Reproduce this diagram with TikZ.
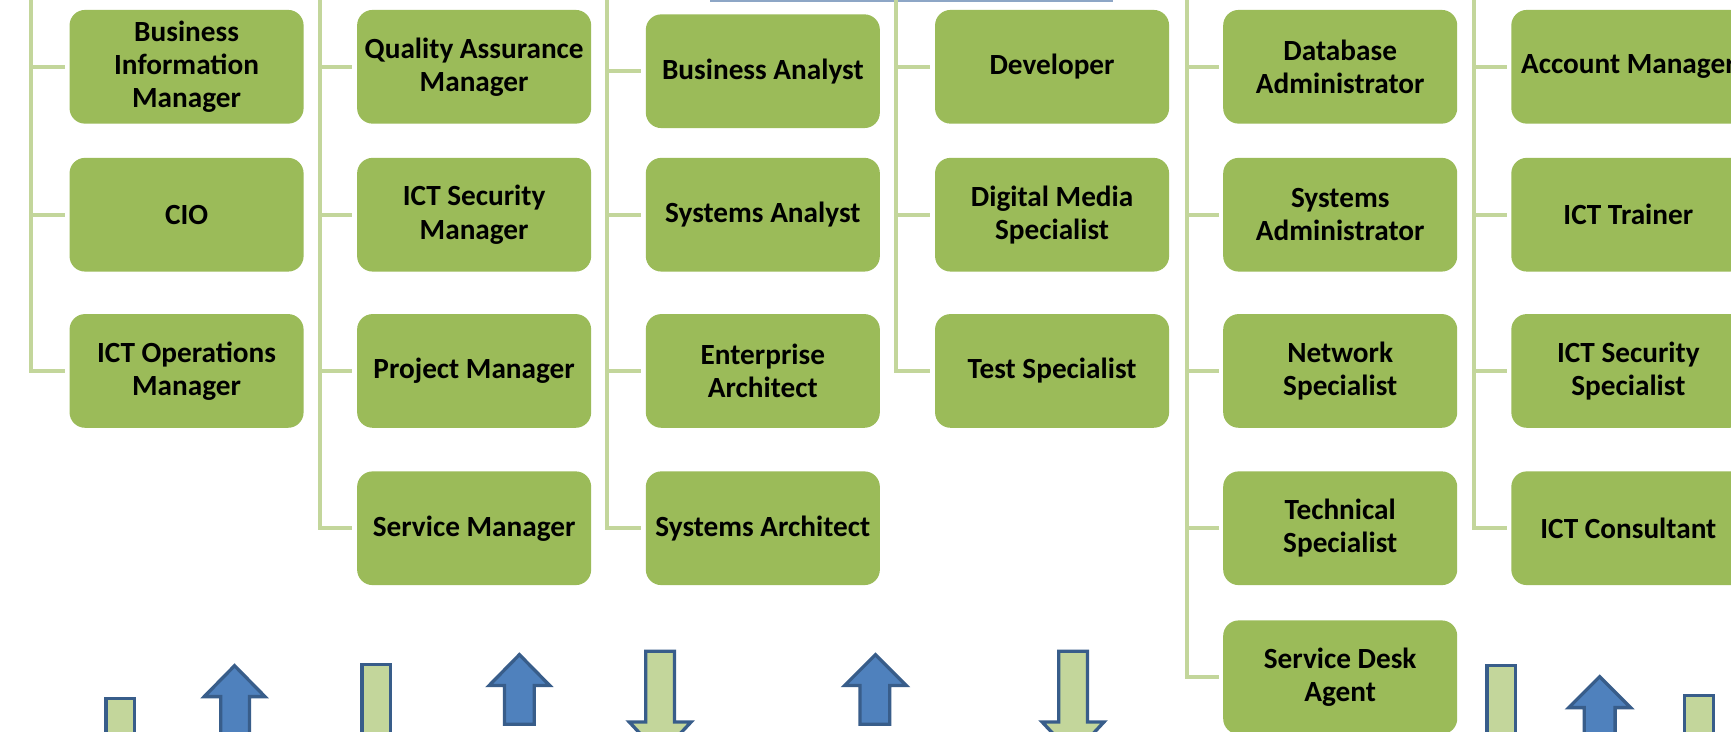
\documentclass[tikz,border=0pt]{standalone}
\usepackage{fontspec}
\setmainfont{Carlito}
\definecolor{boxgreen}{HTML}{9BBB59}
\definecolor{linegreen}{HTML}{C3D69B}
\definecolor{barfill}{HTML}{C3D69B}
\definecolor{arrowblue}{HTML}{4F81BD}
\definecolor{arrowedge}{HTML}{385D8A}
\definecolor{topstrip}{HTML}{8DA6C6}
\begin{document}
\begin{tikzpicture}[x=1pt,y=-1pt,
  role/.style={draw=none, fill=boxgreen, rounded corners=14pt, minimum width=212pt, minimum height=103pt, inner sep=0pt, align=center, font=\fontsize{26.5}{30}\selectfont\bfseries},
  conn/.style={draw=linegreen, line width=3.5pt},
  bluearrow/.style={fill=arrowblue, draw=arrowedge, line width=3pt, line join=miter},
  greenbar/.style={fill=barfill, draw=arrowedge, line width=3pt, line join=miter}]
\useasboundingbox (0,0) rectangle (1568,663);
\clip (0,0) rectangle (1568,663);
\fill[white] (0,0) rectangle (1568,663);
% strip at top edge
\fill[topstrip] (643,0) rectangle (1008,2);

% column 1
\node[role] (bim)    at (169,60.5)  {Business\\Information\\Manager};
\node[role] (cio)    at (169,194.5) {CIO};
\node[role] (ictops) at (169,336)   {ICT Operations\\Manager};
% column 2
\node[role] (qam)    at (429.5,60.5)  {Quality Assurance\\Manager};
\node[role] (ictsm)  at (429.5,194.5) {ICT Security\\Manager};
\node[role] (pm)     at (429.5,336)   {Project Manager};
\node[role] (sm)     at (429.5,478.5) {Service Manager};
% column 3
\node[role] (ba)     at (691,64.5)  {Business Analyst};
\node[role] (sa)     at (691,194.5) {Systems Analyst};
\node[role] (ea)     at (691,336)   {Enterprise\\Architect};
\node[role] (sysa)   at (691,478.5) {Systems Architect};
% column 4
\node[role] (dev)    at (953,60.5)  {Developer};
\node[role] (dms)    at (953,194.5) {Digital Media\\Specialist};
\node[role] (ts)     at (953,336)   {Test Specialist};
% column 5
\node[role] (dba)    at (1214,60.5)  {Database\\Administrator};
\node[role] (sadm)   at (1214,194.5) {Systems\\Administrator};
\node[role] (ns)     at (1214,336)   {Network\\Specialist};
\node[role] (tech)   at (1214,478.5) {Technical\\Specialist};
\node[role] (sda)    at (1214,613.5) {Service Desk\\Agent};
% column 6
\node[role] (am)     at (1475,60.5)  {Account Manager};
\node[role] (trn)    at (1475,194.5) {ICT Trainer};
\node[role] (icts)   at (1475,336)   {ICT Security\\Specialist};
\node[role] (cons)   at (1475,478.5) {ICT Consultant};

% trunks
\coordinate (t1) at (28,0);
\coordinate (t2) at (290,0);
\coordinate (t3) at (550,0);
\coordinate (t4) at (812,0);
\coordinate (t5) at (1075,0);
\coordinate (t6) at (1335,0);
\draw[conn] (t1) |- ([xshift=-4pt]ictops.west);
\foreach \n in {bim,cio} \draw[conn] (t1 |- \n.west) -- ([xshift=-4pt]\n.west);
\draw[conn] (t2) |- ([xshift=-4pt]sm.west);
\foreach \n in {qam,ictsm,pm} \draw[conn] (t2 |- \n.west) -- ([xshift=-4pt]\n.west);
\draw[conn] (t3) |- ([xshift=-4pt]sysa.west);
\foreach \n in {ba,sa,ea} \draw[conn] (t3 |- \n.west) -- ([xshift=-4pt]\n.west);
\draw[conn] (t4) |- ([xshift=-4pt]ts.west);
\foreach \n in {dev,dms} \draw[conn] (t4 |- \n.west) -- ([xshift=-4pt]\n.west);
\draw[conn] (t5) |- ([xshift=-4pt]sda.west);
\foreach \n in {dba,sadm,ns,tech} \draw[conn] (t5 |- \n.west) -- ([xshift=-4pt]\n.west);
\draw[conn] (t6) |- ([xshift=-4pt]cons.west);
\foreach \n in {am,trn,icts} \draw[conn] (t6 |- \n.west) -- ([xshift=-4pt]\n.west);

% bottom arrows and bars
\draw[greenbar] (96,633) rectangle (122,690);
\draw[bluearrow] (200,690) -- (200,631) -- (185,631) -- (212.5,603) -- (240,631) -- (226,631) -- (226,690) -- cycle;
\draw[greenbar] (328,602) rectangle (354,690);
\draw[bluearrow] (457,656) -- (457,621) -- (443,621) -- (470.5,593) -- (498,621) -- (484,621) -- (484,656) -- cycle;
\draw[greenbar] (585,590) -- (611,590) -- (611,654) -- (626,654) -- (598,684) -- (570,654) -- (585,654) -- cycle;
\draw[bluearrow] (779,656) -- (779,621) -- (765,621) -- (793,593) -- (821,621) -- (806,621) -- (806,656) -- cycle;
\draw[greenbar] (959,590) -- (985,590) -- (985,654) -- (1000,654) -- (972,684) -- (944,654) -- (959,654) -- cycle;
\draw[greenbar] (1347,603) rectangle (1373,690);
\draw[bluearrow] (1435,690) -- (1435,641) -- (1421,641) -- (1449,613) -- (1477,641) -- (1463,641) -- (1463,690) -- cycle;
\draw[greenbar] (1526,630) rectangle (1552,690);
\end{tikzpicture}
\end{document}
